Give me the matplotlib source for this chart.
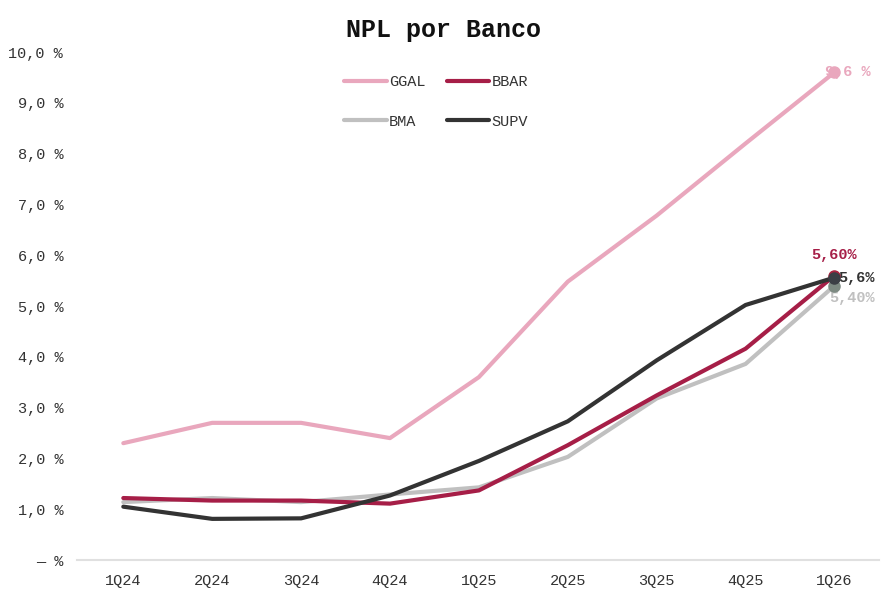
import matplotlib
matplotlib.use("Agg")
import matplotlib.pyplot as plt
from matplotlib.ticker import FixedLocator, FuncFormatter

quarters = ["1Q24", "2Q24", "3Q24", "4Q24", "1Q25", "2Q25", "3Q25", "4Q25", "1Q26"]
ggal = [2.30, 2.70, 2.70, 2.40, 3.60, 5.48, 6.78, 8.20, 9.60]
bbar = [1.22, 1.17, 1.17, 1.11, 1.37, 2.26, 3.24, 4.16, 5.60]
bma = [1.14, 1.22, 1.14, 1.29, 1.43, 2.03, 3.18, 3.86, 5.40]
supv = [1.05, 0.81, 0.82, 1.27, 1.95, 2.73, 3.93, 5.02, 5.56]
series_names = ["GGAL", "BBAR", "BMA", "SUPV"]
end_labels = ["9,6 %", "5,60%", "5,40%", "5,6%"]
yticks = [0, 1, 2, 3, 4, 5, 6, 7, 8, 9, 10]

FONT = ["Liberation Mono", "DejaVu Sans Mono"]
plt.rcParams["font.family"] = FONT

fig = plt.figure(figsize=(8.86, 5.95), dpi=100)
ax = fig.add_axes([0.087, 0.0588, 0.905, 0.8538])

colors = {"GGAL": "#e9a7bd", "BBAR": "#a61e47", "BMA": "#c0c0c0", "SUPV": "#333333"}
mcolors = {"GGAL": "#e9a7bd", "BBAR": "#a8243f", "BMA": "#7d8a82", "SUPV": "#3b3f45"}
data = {"GGAL": ggal, "BBAR": bbar, "BMA": bma, "SUPV": supv}
x = list(range(len(quarters)))

order = ["GGAL", "BMA", "BBAR", "SUPV"]
zs = {"GGAL": 2, "BMA": 3, "BBAR": 4, "SUPV": 5}
lines = {}
for name in order:
    ln, = ax.plot(x, data[name], color=colors[name], lw=3, solid_capstyle="round",
                  label=name, zorder=zs[name])
    lines[name] = ln
for name in ["GGAL", "BMA", "BBAR", "SUPV"]:
    ax.plot([x[-1]], [data[name][-1]], "o", ms=8, color=mcolors[name], zorder=20 + zs[name])

# end labels (drawn beneath the end markers, as in the reference)
ax.annotate(end_labels[0], (x[-1], ggal[-1]), xytext=(-7, 0), textcoords="offset points",
            ha="left", va="center", color="#e9a7bd", fontsize=11, fontweight="bold", zorder=15)
ax.annotate(end_labels[1], (x[-1], bbar[-1]), xytext=(0, 15), textcoords="offset points",
            ha="center", va="center", color="#a61e47", fontsize=11, fontweight="bold", zorder=15)
ax.annotate(end_labels[2], (x[-1], bma[-1]), xytext=(-4, -9), textcoords="offset points",
            ha="left", va="center", color="#c0c0c0", fontsize=11, fontweight="bold", zorder=15)
ax.annotate(end_labels[3], (x[-1], supv[-1]), xytext=(3, 0), textcoords="offset points",
            ha="left", va="center", color="#333333", fontsize=11, fontweight="bold", zorder=15)

ax.set_xlim(-0.52, 8.5)
ax.set_ylim(0, 10)
ax.set_xticks(x)
ax.set_xticklabels(quarters)
ax.yaxis.set_major_locator(FixedLocator(yticks))
ax.yaxis.set_major_formatter(FuncFormatter(
    lambda v, p: "— %" if v == 0 else ("%.1f %%" % v).replace(".", ",")))
ax.tick_params(axis="both", length=0, labelsize=11, colors="#333333")
ax.tick_params(axis="x", pad=10)
ax.tick_params(axis="y", pad=10)
for s in ["top", "right", "left"]:
    ax.spines[s].set_visible(False)
ax.spines["bottom"].set_color("#e0e0e0")
ax.spines["bottom"].set_linewidth(1.5)

# legend laid out row-wise: GGAL, BBAR / BMA, SUPV (matplotlib fills column-wise)
leg_order = ["GGAL", "BMA", "BBAR", "SUPV"]
handles = [lines[n] for n in leg_order]
leg = fig.legend(handles, leg_order, loc="center", bbox_to_anchor=(436 / 886, 1 - 102 / 595),
                 ncol=2, frameon=False, handlelength=2.8, handletextpad=0.15,
                 columnspacing=1.4, labelspacing=1.65,
                 prop={"family": ["Liberation Mono"], "size": 11})
for t in leg.get_texts():
    t.set_color("#333333")

fig.text(0.5, 1 - 30 / 595, "NPL por Banco", ha="center", va="center",
         fontsize=18, fontweight="bold", color="#111111")

fig.savefig("out.png", dpi=100)
